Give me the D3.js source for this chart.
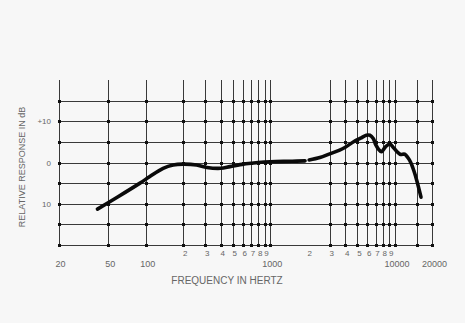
<!DOCTYPE html>
<html><head><meta charset="utf-8">
<script src="https://cdn.jsdelivr.net/npm/d3@7"></script>
<style>
html,body{margin:0;padding:0;background:#f7f7f7;}
svg{display:block;}
text{font-family:"Liberation Sans","DejaVu Sans",sans-serif;fill:#666;}
</style></head>
<body>
<svg id="c" width="465" height="323"></svg>
<script>
// Data
const freqs = [41, 60, 90, 108, 138, 166, 200, 256, 310, 400, 475, 610, 700, 800, 1000, 1500, 1900, null, 2050, 2500, 3000, 3600, 4000, 4700, 5300, 5900, 6300, 6700, 7050, 7400, 7800, 8400, 9100, 9800, 11000, 12000, 12700, 13400, 14200, 15000, 16200];
const dB    = [-11.3, -8.3, -5.0, -3.4, -1.4, -0.6, -0.4, -0.6, -1.2, -1.4, -1.0, -0.4, -0.2, 0.0, 0.2, 0.3, 0.4, null, 0.6, 1.2, 2.1, 3.0, 3.7, 5.1, 5.9, 6.6, 6.6, 5.8, 4.2, 3.2, 2.6, 3.8, 4.5, 3.5, 2.0, 2.0, 1.2, 0.0, -2.0, -4.4, -8.4];
const vGrid = [20, 50, 100, 200, 300, 400, 500, 600, 700, 800, 900, 1000, 3000, 4000, 5000, 6000, 7000, 8000, 9000, 10000, 15000, 20000];
const hGrid = [-20, -15, -10, -5, 0, 5, 10, 15];
const majorLabels = [[20, "20"], [50, "50"], [100, "100"], [1000, "1000"], [10000, "10000"], [20000, "20000"]];
const minorLabels = [[200,"2"],[300,"3"],[400,"4"],[500,"5"],[600,"6"],[700,"7"],[800,"8"],[900,"9"],[2000,"2"],[3000,"3"],[4000,"4"],[5000,"5"],[6000,"6"],[7000,"7"],[8000,"8"],[9000,"9"]];
const yLabels = [[10, "+10"], [0, "0"], [-10, "10"]];

const svg = d3.select("#c");
const x = d3.scaleLog().domain([20, 20000]).range([58.6, 432.4]);
const y = d3.scaleLinear().domain([-20, 20]).range([245, 80]);

const g = svg.append("g");
// vertical grid
g.selectAll("line.v").data(vGrid).join("line")
  .attr("x1", d => Math.round(x(d)) + 0.5).attr("x2", d => Math.round(x(d)) + 0.5)
  .attr("y1", y(20)).attr("y2", y(-20))
  .attr("stroke", "#3a3a3a").attr("stroke-width", 1);
// horizontal grid
g.selectAll("line.h").data(hGrid).join("line")
  .attr("x1", x(20)).attr("x2", x(20000))
  .attr("y1", d => Math.round(y(d)) + 0.5).attr("y2", d => Math.round(y(d)) + 0.5)
  .attr("stroke", "#3a3a3a").attr("stroke-width", 1);
// intersection dots
const pts = [];
vGrid.forEach(f => hGrid.forEach(v => pts.push([f, v])));
g.selectAll("rect.dot").data(pts).join("rect")
  .attr("x", d => Math.round(x(d[0])) - 1).attr("y", d => Math.round(y(d[1])) - 1)
  .attr("width", 3).attr("height", 3).attr("fill", "#111");

// curve
const line = d3.line()
  .defined((d, i) => freqs[i] !== null)
  .x((d, i) => x(freqs[i])).y((d, i) => y(dB[i]))
  .curve(d3.curveCatmullRom.alpha(0.5));
svg.append("path").datum(freqs).attr("d", line)
  .attr("fill", "none").attr("stroke", "#0a0a0a").attr("stroke-width", 3.6)
  .attr("stroke-linecap", "round").attr("stroke-linejoin", "round");

// labels
svg.selectAll("text.maj").data(majorLabels).join("text")
  .attr("x", d => x(d[0]) + 2).attr("y", 267).attr("text-anchor", "middle")
  .attr("font-size", 9).text(d => d[1]);
svg.selectAll("text.min").data(minorLabels).join("text")
  .attr("x", d => x(d[0]) + 2).attr("y", 256).attr("text-anchor", "middle")
  .attr("font-size", 8).text(d => d[1]);
svg.selectAll("text.yl").data(yLabels).join("text")
  .attr("x", 51).attr("y", d => y(d[0]) + 3).attr("text-anchor", "end")
  .attr("font-size", 8).text(d => d[1]);
svg.append("text").attr("x", 227).attr("y", 284).attr("text-anchor", "middle")
  .attr("font-size", 10).text("FREQUENCY IN HERTZ");
svg.append("text").attr("transform", "translate(25,167) rotate(-90)")
  .attr("text-anchor", "middle").attr("font-size", 9).text("RELATIVE RESPONSE IN dB");
</script>
</body></html>
